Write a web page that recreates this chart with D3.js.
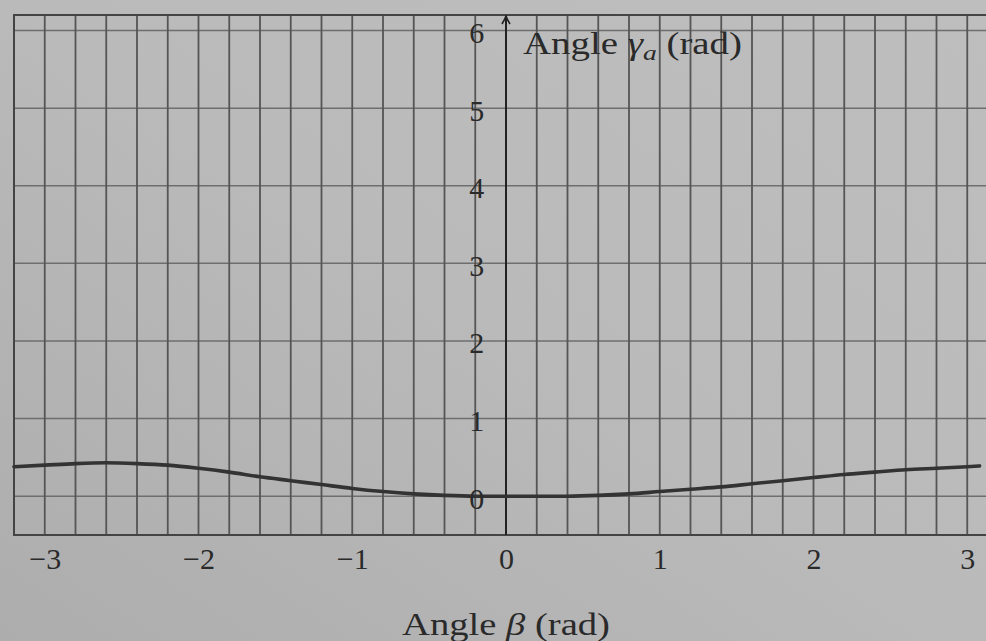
<!DOCTYPE html>
<html>
<head>
<meta charset="utf-8">
<script src="https://cdn.jsdelivr.net/npm/d3@7.9.0/dist/d3.min.js"></script>
<style>
  html, body { margin: 0; padding: 0; background: #b9b9b9; }
  svg { display: block; }
  text { font-family: "Liberation Serif", "DejaVu Serif", serif; fill: #2a2a2a; }
</style>
</head>
<body>
<svg id="chart" width="986" height="641"></svg>
<script>
// values (beta in rad, gamma_a in rad)
const beta   = [-3.2, -3.0, -2.8, -2.6, -2.4, -2.2, -2.0, -1.8, -1.6, -1.4, -1.2, -1.0, -0.8, -0.6, -0.4, -0.2,
                0.0, 0.2, 0.4, 0.6, 0.8, 1.0, 1.2, 1.4, 1.6, 1.8, 2.0, 2.2, 2.4, 2.6, 2.8, 3.0, 3.08];
const gammaA = [0.38, 0.40, 0.42, 0.43, 0.42, 0.40, 0.36, 0.31, 0.25, 0.20, 0.15, 0.10, 0.06, 0.03, 0.01, 0.0,
                0.0, 0.0, 0.0, 0.01, 0.03, 0.06, 0.09, 0.12, 0.16, 0.20, 0.24, 0.28, 0.31, 0.34, 0.36, 0.38, 0.39];
const xTicks = [-3, -2, -1, 0, 1, 2, 3];
const yTicks = [0, 1, 2, 3, 4, 5, 6];

const svg = d3.select("#chart");

// paper background, a bit darker towards the lower left like the photo
const defs = svg.append("defs");
const grad = defs.append("linearGradient").attr("id", "paper")
    .attr("x1", "0").attr("y1", "1").attr("x2", "1").attr("y2", "0");
grad.append("stop").attr("offset", "0").attr("stop-color", "#adadad");
grad.append("stop").attr("offset", "0.5").attr("stop-color", "#bababa");
grad.append("stop").attr("offset", "1").attr("stop-color", "#bebebe");
svg.append("rect").attr("width", 986).attr("height", 641).attr("fill", "url(#paper)");

defs.append("marker").attr("id", "arrow")
    .attr("viewBox", "0 0 10 10").attr("refX", 9).attr("refY", 5)
    .attr("markerWidth", 10).attr("markerHeight", 10)
    .attr("markerUnits", "userSpaceOnUse").attr("orient", "auto")
  .append("path").attr("d", "M1,1 Q6,4 9,5 Q6,6 1,9")
    .attr("fill", "none").attr("stroke", "#222").attr("stroke-width", 1.6);

const x = d3.scaleLinear().domain([-3.2, 3.2]).range([14, 998]);
const y = d3.scaleLinear().domain([-0.5, 6.2]).range([535, 15]);

// grid
const grid = svg.append("g");
grid.selectAll(".hg").data(y.ticks(7)).join("line")
    .attr("x1", x(-3.2)).attr("x2", x(3.2))
    .attr("y1", d => y(d)).attr("y2", d => y(d))
    .attr("stroke", "#6e6e6e").attr("stroke-width", 1.5);
grid.selectAll(".vg").data(x.ticks(32)).join("line")
    .attr("x1", d => x(d)).attr("x2", d => x(d))
    .attr("y1", y(-0.5)).attr("y2", y(6.2))
    .attr("stroke", "#555").attr("stroke-width", 1.8);

// frame
svg.append("rect")
    .attr("x", x(-3.2)).attr("y", y(6.2))
    .attr("width", x(3.2) - x(-3.2)).attr("height", y(-0.5) - y(6.2))
    .attr("fill", "none").attr("stroke", "#444").attr("stroke-width", 2);

// vertical axis with arrow
svg.append("line")
    .attr("x1", x(0)).attr("x2", x(0))
    .attr("y1", y(-0.5)).attr("y2", y(6.2) + 1)
    .attr("stroke", "#222").attr("stroke-width", 2)
    .attr("marker-end", "url(#arrow)");

// curve
svg.append("path")
    .datum(beta.map((b, i) => [b, gammaA[i]]))
    .attr("fill", "none").attr("stroke", "#333").attr("stroke-width", 3.6)
    .attr("stroke-linecap", "round")
    .attr("d", d3.line().x(d => x(d[0])).y(d => y(d[1])).curve(d3.curveMonotoneX));

// tick labels
const fmt = d3.format("d");
const xAxis = svg.append("g").attr("transform", `translate(0,${y(-0.5)})`)
    .call(d3.axisBottom(x).tickValues(xTicks).tickFormat(fmt).tickSize(0).tickPadding(13));
xAxis.select(".domain").remove();
xAxis.selectAll("text").attr("font-size", 30).attr("font-family", null).attr("fill", "#2a2a2a");

const yAxis = svg.append("g").attr("transform", `translate(${x(-0.2) + 9},0)`)
    .call(d3.axisLeft(y).tickValues(yTicks).tickFormat(fmt).tickSize(0).tickPadding(0));
yAxis.select(".domain").remove();
yAxis.selectAll("text").attr("font-size", 30).attr("font-family", null).attr("fill", "#2a2a2a")
    .attr("dy", "0.4em");

// axis titles
const yt = svg.append("text").attr("x", 523).attr("y", 54).attr("font-size", 31)
    .attr("textLength", 219).attr("lengthAdjust", "spacingAndGlyphs");
yt.append("tspan").text("Angle ");
yt.append("tspan").attr("font-style", "italic").text("γ");
yt.append("tspan").attr("font-style", "italic").attr("font-size", 22).attr("dy", 6).text("a");
yt.append("tspan").attr("dy", -6).text(" (rad)");

const xt = svg.append("text").attr("x", 402).attr("y", 635).attr("font-size", 32)
    .attr("textLength", 208).attr("lengthAdjust", "spacingAndGlyphs");
xt.append("tspan").text("Angle ");
xt.append("tspan").attr("font-style", "italic").text("β");
xt.append("tspan").text(" (rad)");
</script>
</body>
</html>
